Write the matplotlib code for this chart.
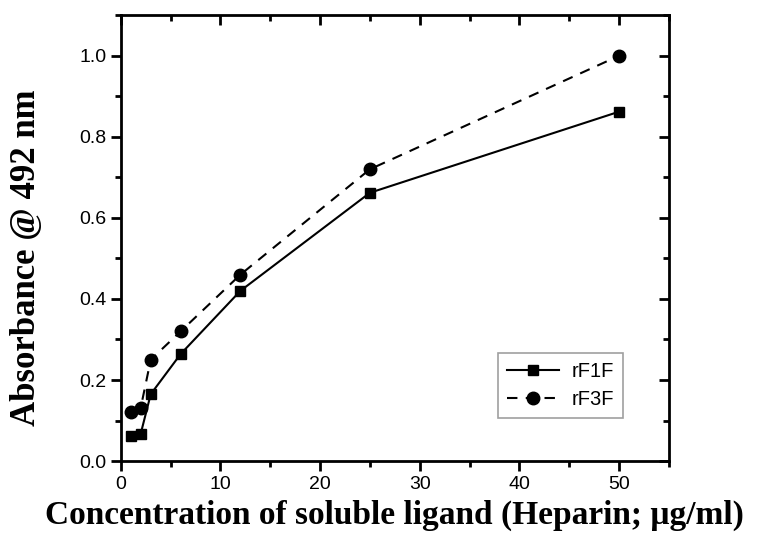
import matplotlib.pyplot as plt
from matplotlib.ticker import MultipleLocator

# heparin concentration (ug/ml)
conc = [1, 2, 3, 6, 12, 25, 50]
rf1f = [0.062, 0.068, 0.165, 0.264, 0.42, 0.662, 0.862]
rf3f = [0.122, 0.132, 0.25, 0.32, 0.46, 0.72, 1.0]

fig = plt.figure(figsize=(7.6, 5.45), dpi=100)
ax = fig.add_axes([0.159, 0.154, 0.721, 0.818])

ax.plot(conc, rf1f, c="black", ls="-", lw=1.5, marker="s", ms=7.5, label="rF1F")
ax.plot(conc, rf3f, c="black", ls=(0, (5, 4)), lw=1.5, marker="o", ms=9, label="rF3F")

ax.set_xlim(0, 55)
ax.set_ylim(0, 1.1)
ax.xaxis.set_major_locator(MultipleLocator(10))
ax.xaxis.set_minor_locator(MultipleLocator(5))
ax.yaxis.set_major_locator(MultipleLocator(0.2))
ax.yaxis.set_minor_locator(MultipleLocator(0.1))
ax.yaxis.set_major_formatter(plt.FuncFormatter(lambda v, p: "%.1f" % v))

for s in ax.spines.values():
    s.set_linewidth(2)

# outward ticks on left/bottom, inward mirrored ticks on top/right
ax.tick_params(which="both", direction="out", width=2, labelsize=14,
               labelfontfamily="Liberation Sans", colors="black")
ax.tick_params(which="major", length=7)
ax.tick_params(which="minor", length=4)
ax2 = ax.secondary_xaxis("top")
ax2.xaxis.set_major_locator(MultipleLocator(10))
ax2.xaxis.set_minor_locator(MultipleLocator(5))
ax2.tick_params(which="both", direction="in", width=2, labeltop=False)
ax2.tick_params(which="major", length=7)
ax2.tick_params(which="minor", length=4)
ax2.spines["top"].set_visible(False)
ay2 = ax.secondary_yaxis("right")
ay2.yaxis.set_major_locator(MultipleLocator(0.2))
ay2.yaxis.set_minor_locator(MultipleLocator(0.1))
ay2.tick_params(which="both", direction="in", width=2, labelright=False)
ay2.tick_params(which="major", length=7)
ay2.tick_params(which="minor", length=4)
ay2.spines["right"].set_visible(False)

ax.set_xlabel("Concentration of soluble ligand (Heparin; \u03bcg/ml)",
              fontfamily="Liberation Serif", fontweight="bold", fontsize=24, labelpad=5)
ax.set_ylabel("Absorbance @ 492 nm",
              fontfamily="Liberation Serif", fontweight="bold", fontsize=25)
ax.yaxis.set_label_coords(-0.142, 0.455)

leg = ax.legend(loc="upper left", bbox_to_anchor=(0.688, 0.242), borderaxespad=0,
                fancybox=False, prop={"family": "Liberation Sans", "size": 14.5},
                handlelength=2.6, borderpad=0.45, labelspacing=0.45, handletextpad=0.6)
leg.get_frame().set_edgecolor("#888888")
leg.get_frame().set_linewidth(1.2)

fig.savefig("out.png", dpi=100)
